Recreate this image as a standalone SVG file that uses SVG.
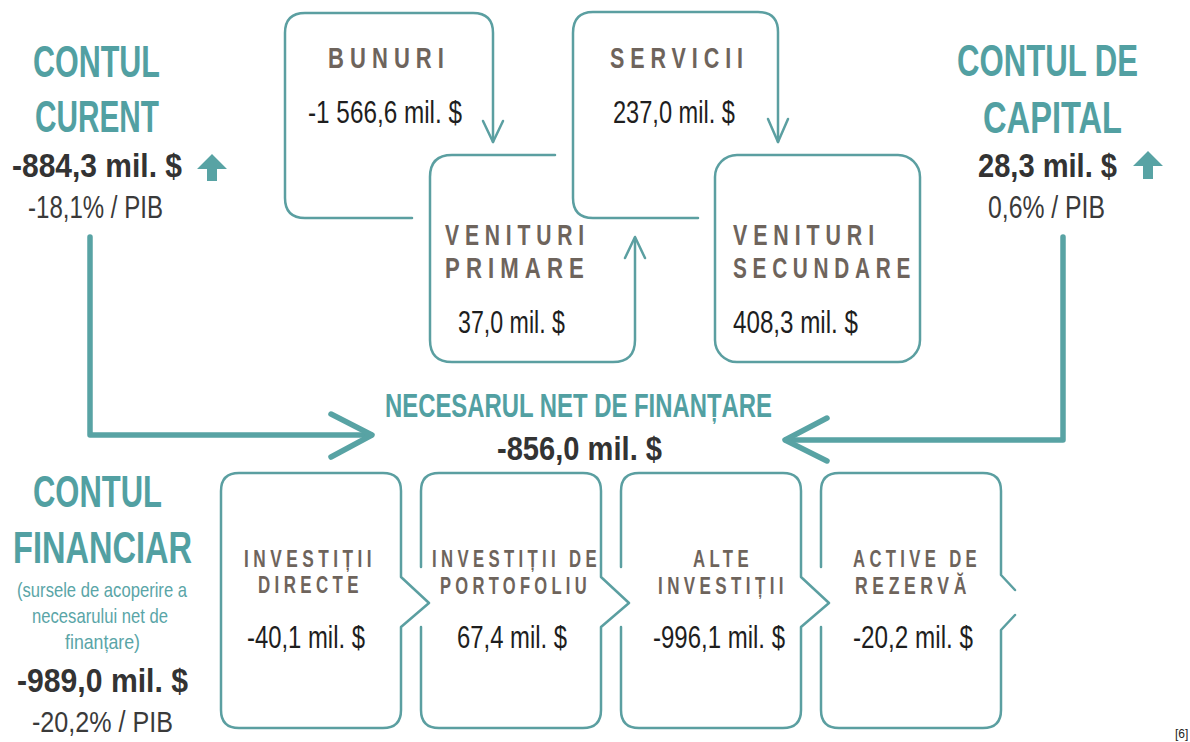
<svg xmlns="http://www.w3.org/2000/svg" width="1190" height="742" viewBox="0 0 1190 742">
<style>
text{font-family:"Liberation Sans Narrow","Liberation Sans",Arial,sans-serif}
.h{font-weight:bold;fill:#52a0a2;font-size:38px}
.hn{font-weight:bold;fill:#52a0a2;font-size:33px}
.hb{font-weight:bold;fill:#333;font-size:34px}
.pib{fill:#3a3a3a;font-size:31px}
.t{font-weight:bold;fill:#6e645c;font-size:29px;letter-spacing:8px}
.ts{font-weight:bold;fill:#6e645c;font-size:23px;letter-spacing:6px}
.v{fill:#1e1e1e;font-size:31px}
.sub{fill:#5aa5a7;font-size:21px}
.box{fill:none;stroke:#5b9fa1;stroke-width:2.5;stroke-linecap:round;stroke-linejoin:round}
.big{fill:none;stroke:#58a3a4;stroke-width:5.5;stroke-linecap:round;stroke-linejoin:round}
.up{fill:#58a3a4}
</style>
<rect width="1190" height="742" fill="#fff"/>

<g id="contul-curent">
<text class="h" transform="translate(33,77) scale(1,1.17)" textLength="127" lengthAdjust="spacingAndGlyphs">CONTUL</text>
<text class="h" transform="translate(35,132) scale(1,1.17)" textLength="124" lengthAdjust="spacingAndGlyphs">CURENT</text>
<text class="hb" x="12" y="177" textLength="170" lengthAdjust="spacingAndGlyphs">-884,3 mil. $</text>
<polygon class="up" points="212,154 227,169 217,169 217,181 207,181 207,169 197,169"/>
<text class="pib" x="28" y="218" textLength="135" lengthAdjust="spacingAndGlyphs">-18,1% / PIB</text>
</g>

<g id="contul-capital">
<text class="h" transform="translate(957,76) scale(1,1.17)" textLength="181" lengthAdjust="spacingAndGlyphs">CONTUL DE</text>
<text class="h" transform="translate(983,133) scale(1,1.17)" textLength="139" lengthAdjust="spacingAndGlyphs">CAPITAL</text>
<text class="hb" x="978" y="177" textLength="139" lengthAdjust="spacingAndGlyphs">28,3 mil. $</text>
<polygon class="up" points="1148,151 1163,166 1153,166 1153,179 1143,179 1143,166 1133,166"/>
<text class="pib" x="988" y="218" textLength="117" lengthAdjust="spacingAndGlyphs">0,6% / PIB</text>
</g>

<g id="bunuri">
<path class="box" d="M412,218 H305 Q285,218 285,198 V33 Q285,13 305,13 H473 Q493,13 493,33 V142"/>
<text class="t" x="328" y="68" textLength="122" lengthAdjust="spacingAndGlyphs">BUNURI</text>
<text class="v" x="308" y="123" textLength="154" lengthAdjust="spacingAndGlyphs">-1 566,6 mil. $</text>
</g>

<g id="servicii">
<path class="box" d="M698,218 H593 Q573,218 573,198 V33 Q573,12 593,12 H758 Q778,12 778,32 V142"/>
<text class="t" x="610" y="68" textLength="139" lengthAdjust="spacingAndGlyphs">SERVICII</text>
<text class="v" x="613" y="123" textLength="122" lengthAdjust="spacingAndGlyphs">237,0 mil. $</text>
</g>

<g id="venituri-primare">
<path class="box" d="M555,155 H452 Q430,155 430,177 V340 Q430,362 452,362 H613 Q635,362 635,340 V238"/>
<text class="t" x="445" y="245" textLength="145" lengthAdjust="spacingAndGlyphs">VENITURI</text>
<text class="t" x="445" y="278" textLength="145" lengthAdjust="spacingAndGlyphs">PRIMARE</text>
<text class="v" x="458" y="333" textLength="107" lengthAdjust="spacingAndGlyphs">37,0 mil. $</text>
</g>

<g id="venituri-secundare">
<rect class="box" x="715" y="155" width="205" height="207" rx="22" ry="22"/>
<text class="t" x="733" y="245" textLength="147" lengthAdjust="spacingAndGlyphs">VENITURI</text>
<text class="t" x="733" y="278" textLength="183" lengthAdjust="spacingAndGlyphs">SECUNDARE</text>
<text class="v" x="733" y="333" textLength="125" lengthAdjust="spacingAndGlyphs">408,3 mil. $</text>
</g>

<g id="necesar">
<text class="hn" x="385" y="417" textLength="387" lengthAdjust="spacingAndGlyphs">NECESARUL NET DE FINANȚARE</text>
<text class="hb" x="497" y="460" textLength="165" lengthAdjust="spacingAndGlyphs">-856,0 mil. $</text>
</g>

<g id="contul-financiar">
<text class="h" transform="translate(33,507) scale(1,1.17)" textLength="129" lengthAdjust="spacingAndGlyphs">CONTUL</text>
<text class="h" transform="translate(13,563) scale(1,1.17)" textLength="179" lengthAdjust="spacingAndGlyphs">FINANCIAR</text>
<text class="sub" x="17" y="597" textLength="170" lengthAdjust="spacingAndGlyphs">(sursele de acoperire a</text>
<text class="sub" x="32" y="623" textLength="136" lengthAdjust="spacingAndGlyphs">necesarului net de</text>
<text class="sub" x="65" y="649" textLength="75" lengthAdjust="spacingAndGlyphs">finanțare)</text>
<text class="hb" x="17" y="692" textLength="171" lengthAdjust="spacingAndGlyphs">-989,0 mil. $</text>
<text class="pib" style="font-size:29px" x="32" y="732" textLength="141" lengthAdjust="spacingAndGlyphs">-20,2% / PIB</text>
</g>

<g id="investitii-directe">
<path class="box" d="M239,473 H383 Q401,473 401,491 V577 L429,603 L401,627 V710 Q401,728 383,728 H239 Q221,728 221,710 V491 Q221,473 239,473 Z"/>
<text class="ts" x="244" y="567" textLength="132" lengthAdjust="spacingAndGlyphs">INVESTIȚII</text>
<text class="ts" x="258" y="593" textLength="105" lengthAdjust="spacingAndGlyphs">DIRECTE</text>
<text class="v" x="247" y="648" textLength="118" lengthAdjust="spacingAndGlyphs">-40,1 mil. $</text>
</g>

<g id="investitii-portofoliu">
<path class="box" d="M421,567 V491 Q421,473 439,473 H583 Q601,473 601,491 V577 L629,603 L601,627 V710 Q601,728 583,728 H439 Q421,728 421,710 V627"/>
<text class="ts" x="432" y="567" textLength="169" lengthAdjust="spacingAndGlyphs">INVESTIȚII DE</text>
<text class="ts" x="440" y="594" textLength="151" lengthAdjust="spacingAndGlyphs">PORTOFOLIU</text>
<text class="v" x="457" y="648" textLength="110" lengthAdjust="spacingAndGlyphs">67,4 mil. $</text>
</g>

<g id="alte-investitii">
<path class="box" d="M621,567 V491 Q621,473 639,473 H783 Q801,473 801,491 V577 L829,603 L801,627 V710 Q801,728 783,728 H639 Q621,728 621,710 V627"/>
<text class="ts" x="693" y="567" textLength="60" lengthAdjust="spacingAndGlyphs">ALTE</text>
<text class="ts" x="658" y="594" textLength="130" lengthAdjust="spacingAndGlyphs">INVESTIȚII</text>
<text class="v" x="653" y="648" textLength="132" lengthAdjust="spacingAndGlyphs">-996,1 mil. $</text>
</g>

<g id="active-rezerva">
<path class="box" d="M821,567 V491 Q821,473 839,473 H983 Q1001,473 1001,491 V575 L1015,590 M1015,615 L1001,630 V710 Q1001,728 983,728 H839 Q821,728 821,710 V627"/>
<text class="ts" x="853" y="567" textLength="128" lengthAdjust="spacingAndGlyphs">ACTIVE DE</text>
<text class="ts" x="855" y="594" textLength="116" lengthAdjust="spacingAndGlyphs">REZERVĂ</text>
<text class="v" x="853" y="648" textLength="120" lengthAdjust="spacingAndGlyphs">-20,2 mil. $</text>
</g>

<g id="connectors">
<path class="box" d="M483,121 L493,142 L503,121"/>
<path class="box" d="M768,119 L778,142 L788,119"/>
<path class="box" d="M625,258 L635,237 L645,258"/>
<path class="big" d="M90,237 V435 H371"/>
<path class="big" d="M331,414 L372,435 L331,457"/>
<path class="big" d="M1063,237 V440 H786"/>
<path class="big" d="M827,418 L785,440 L827,461"/>
</g>

<text x="1175" y="738" style="font-size:12px;fill:#222;font-family:'Liberation Sans',Arial,sans-serif">[6]</text>
</svg>
